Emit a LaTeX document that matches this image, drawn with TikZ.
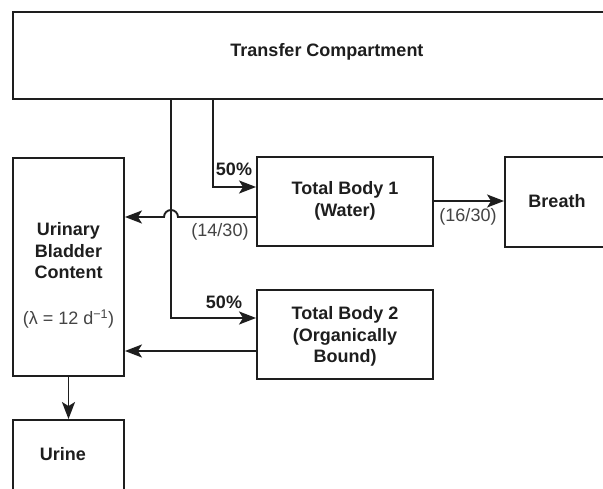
\documentclass[tikz,border=0pt]{standalone}
\usepackage{fontspec}
\setmainfont{Liberation Sans}
\usetikzlibrary{arrows.meta}
\definecolor{ink}{HTML}{1E1E1E}
\definecolor{soft}{HTML}{444444}
\tikzset{
  box/.style={draw=ink, line width=1.9pt, inner sep=0pt},
  bold/.style={font=\fontsize{18}{21.5}\selectfont\bfseries, text=ink, align=center, inner sep=0pt},
  plain/.style={font=\fontsize{18}{21.5}\selectfont, text=soft, align=center, inner sep=0pt},
  arr/.style={draw=ink, line width=1.9pt, -{Stealth[length=17pt,width=13pt,inset=4pt]}},
}
\begin{document}
\begin{tikzpicture}[x=1pt,y=-1pt]
\useasboundingbox (0,0) rectangle (603,489);
\clip (0,0) rectangle (603,489);
\fill[white] (0,0) rectangle (603,489);
% boxes
\node[box, minimum width=628pt, minimum height=87pt] (trans) at (327,55.5) {};
\node[bold] (transtext) at (327,52) {Transfer Compartment};
\node[box, minimum width=111pt, minimum height=218pt] (ub) at (68.5,267) {};
\node[bold] (ubtext) at (68.5,251) {Urinary\\Bladder\\Content};
\node[plain] (lam) at (68.5,319) {(λ = 12 d\textsuperscript{−1})};
\node[box, minimum width=176pt, minimum height=89pt] (tb1) at (345,201.5) {};
\node[bold] (tb1text) at (345,201) {Total Body 1\\(Water)};
\node[box, minimum width=104pt, minimum height=90pt] (breath) at (557,202) {};
\node[bold] (breathtext) at (557,201) {Breath};
\node[box, minimum width=176pt, minimum height=89pt] (tb2) at (345,334.5) {};
\node[bold] (tb2text) at (345,336.5) {Total Body 2\\(Organically\\Bound)};
\node[box, minimum width=111pt, minimum height=90pt] (urine) at (68.5,465) {};
\node[bold] (urinetext) at (63,454) {Urine};
% helper coordinates
\coordinate (v1) at (171,0);
\coordinate (v2) at (213,0);
\coordinate (h1) at (0,187);
\coordinate (h2) at (0,318);
\coordinate (h3) at (0,217);
\coordinate (h4) at (0,351);
\coordinate (h5) at (0,201);
% connectors
\draw[arr] (v2 |- trans.south) |- (tb1.west |- h1);
\draw[arr] (v1 |- trans.south) |- (tb2.west |- h2);
\draw[arr] (tb1.west |- h3) -- ([xshift=7pt]v1 |- h3) arc[start angle=0,end angle=-180,radius=7] -- (ub.east |- h3);
\draw[arr] (tb2.west |- h4) -- (ub.east |- h4);
\draw[arr] (tb1.east |- h5) -- (breath.west |- h5);
\draw[arr] (ub.south) -- (urine.north);
% labels
\node[bold] (p1) at (234,169) {50\%};
\node[bold] (p2) at (224,302) {50\%};
\node[plain] (l1) at (220,232) {(14/30)};
\node[plain] (l2) at (468,217) {(16/30)};
\end{tikzpicture}
\end{document}
